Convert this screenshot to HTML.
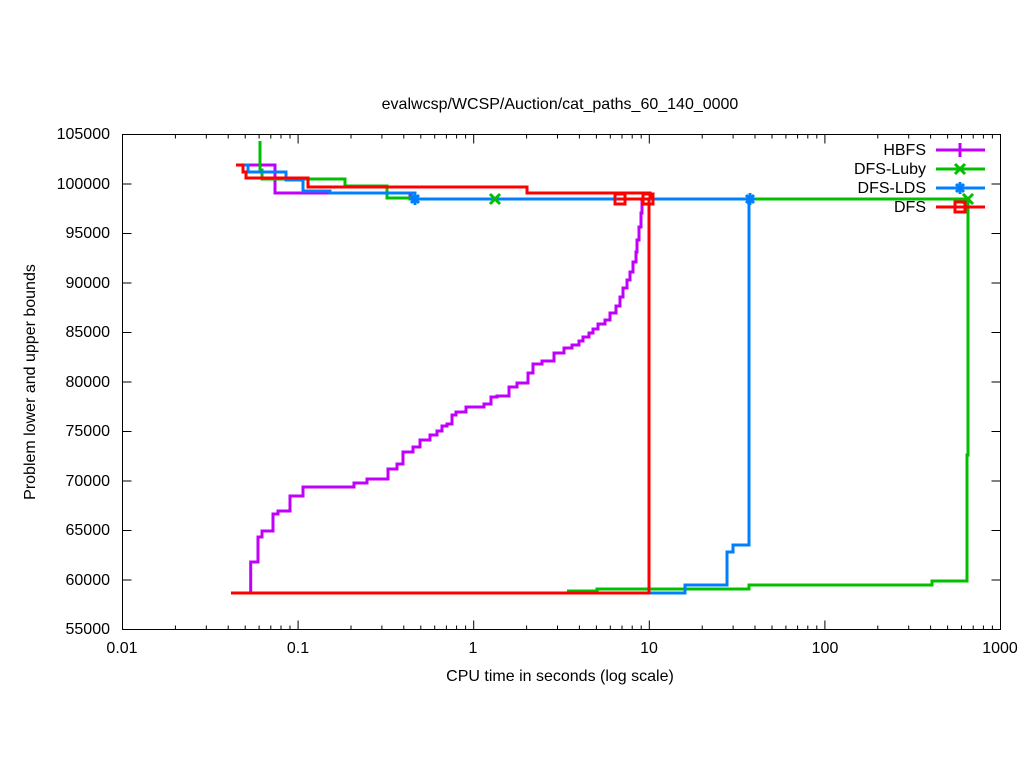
<!DOCTYPE html>
<html><head><style>body{margin:0;background:#fff}svg{display:block}text{font-family:"Liberation Sans",sans-serif;font-size:16px;fill:#000}</style></head><body>
<svg width="1024" height="768" xmlns="http://www.w3.org/2000/svg">
<rect width="1024" height="768" fill="#fff"/>
<text x="560" y="109" text-anchor="middle">evalwcsp/WCSP/Auction/cat_paths_60_140_0000</text>
<g stroke="#000" stroke-width="1" fill="none">
<rect x="122.5" y="134.5" width="878" height="495"/>
<path d="M122.5 134.5h9M1000.5 134.5h-9M122.5 184h9M1000.5 184h-9M122.5 233.5h9M1000.5 233.5h-9M122.5 283h9M1000.5 283h-9M122.5 332.5h9M1000.5 332.5h-9M122.5 382h9M1000.5 382h-9M122.5 431.5h9M1000.5 431.5h-9M122.5 481h9M1000.5 481h-9M122.5 530.5h9M1000.5 530.5h-9M122.5 580h9M1000.5 580h-9"/>
<path id="dec" d="M122.5 629.5v-9M122.5 134.5v9M175.4 629.5v-4M175.4 134.5v4M206.3 629.5v-4M206.3 134.5v4M228.2 629.5v-4M228.2 134.5v4M245.2 629.5v-4M245.2 134.5v4M259.1 629.5v-4M259.1 134.5v4M270.8 629.5v-4M270.8 134.5v4M281 629.5v-4M281 134.5v4M290 629.5v-4M290 134.5v4"/>
<use href="#dec" x="175.6"/><use href="#dec" x="351.2"/><use href="#dec" x="526.8"/><use href="#dec" x="702.4"/>
<path d="M1000.5 629.5v-9M1000.5 134.5v9"/>
</g>
<g text-anchor="end">
<text x="110" y="139">105000</text><text x="110" y="189">100000</text><text x="110" y="238">95000</text><text x="110" y="288">90000</text><text x="110" y="337">85000</text><text x="110" y="387">80000</text><text x="110" y="436">75000</text><text x="110" y="486">70000</text><text x="110" y="535">65000</text><text x="110" y="585">60000</text><text x="110" y="634">55000</text>
</g>
<g text-anchor="middle">
<text x="122" y="653">0.01</text><text x="298" y="653">0.1</text><text x="473" y="653">1</text><text x="649" y="653">10</text><text x="825" y="653">100</text><text x="1000" y="653">1000</text>
<text x="560" y="681">CPU time in seconds (log scale)</text>
<text transform="translate(35,382) rotate(-90)">Problem lower and upper bounds</text>
</g>
<g fill="none" stroke-width="3">
<path stroke="#c000ff" d="M242 165H275V193H410V199M250.7 593V562H258V537H262V531H273V514H278V511H290V496H303V487H354V483H367V479H388V469H397V464H403V452H413V447H420V440H430V435H437V431H442V426H447V424H452V415H456V412H466V407H484V404H491V397H497V396H509V387H517V383H528V373H533V364H542V361H554V353H564V348H572V345H579V341H583V337H589V333H593V329H598V324H605V320H610V313H616V306H620V297H623V288H627V280H630V272H633V262H636V252H637V240H639V227H641V213H642V199"/>
<path stroke="#00c000" d="M260 141V170H262V179H345V186H387V198H410V199H968M567 591H597V589H749V585H932V581H967V455H968V199"/>
<path stroke="#0080ff" d="M241 165H248V172H286V180H303V191H330V193H415V199H750M649 593H685V585H727V552H733V545H749V199"/>
<path stroke="#ff0000" d="M236 165H243V172H246V178H308V187H527V193H540V193H650V199M617 199H649V593H231"/>
</g>
<g stroke-width="3" fill="none">
<path stroke="#0080ff" d="M409 199h12M415 193v12M411 195l8 8M419 195l-8 8M744 199h12M750 193v12M746 195l8 8M754 195l-8 8"/>
<path stroke="#00c000" d="M490 194l10 10M500 194l-10 10M963 194l10 10M973 194l-10 10"/>
<rect stroke="#ff0000" x="615" y="194" width="10" height="10"/><rect stroke="#ff0000" x="643" y="194" width="10" height="10"/>
</g>
<g text-anchor="end">
<text x="926" y="155">HBFS</text><text x="926" y="174">DFS-Luby</text><text x="926" y="193">DFS-LDS</text><text x="926" y="212">DFS</text>
</g>
<g stroke-width="3" fill="none">
<path stroke="#c000ff" d="M936 150H985M960 143v14"/>
<path stroke="#00c000" d="M936 169H985M955 164l10 10M965 164l-10 10"/>
<path stroke="#0080ff" d="M936 188H985M954 188h12M960 182v12M956 184l8 8M964 184l-8 8"/>
<path stroke="#ff0000" d="M936 207H985"/><rect stroke="#ff0000" x="955" y="202" width="10" height="10"/>
</g>
</svg>
</body></html>
